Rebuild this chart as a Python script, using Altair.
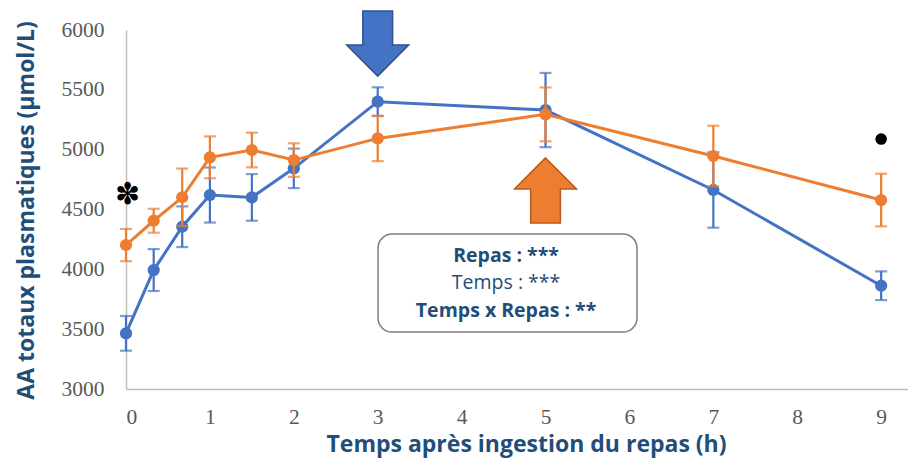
import altair as alt
import pandas as pd

# ---- data ----
times = [0, 0.33, 0.67, 1, 1.5, 2, 3, 5, 7, 9]
blue_mean = [3465, 3994, 4356, 4621, 4601, 4844, 5401, 5331, 4663, 3863]
blue_sem = [145, 175, 170, 230, 195, 165, 120, 310, 315, 120]
orange_mean = [4203, 4406, 4602, 4936, 4997, 4913, 5094, 5295, 4947, 4579]
orange_sem = [135, 100, 240, 175, 145, 140, 190, 225, 253, 220]
x_ticks = [0, 1, 2, 3, 4, 5, 6, 7, 8, 9]
y_ticks = [3000, 3500, 4000, 4500, 5000, 5500, 6000]

stats_lines = ["Repas : ***", "Temps : ***", "Temps x Repas : **"]
stats_bold = [True, False, True]

BLUE = "#4472C4"
ORANGE = "#ED7D31"
NAVY = "#1F4E79"
X_TITLE = "Temps après ingestion du repas (h)"
Y_TITLE = "AA totaux plasmatiques (µmol/L)"

x_scale = alt.Scale(domain=[0, 9.32], nice=False, zero=False)
y_scale = alt.Scale(domain=[3000, 6000], nice=False, zero=False)

X_AXIS = alt.Axis(
    values=x_ticks, grid=False, ticks=False, format="d",
    domainColor="#BFBFBF", domainWidth=1.5, labelFont="Liberation Serif", labelFontSize=21.5,
    labelColor="#595959", labelPadding=17, titleFont="Open Sans", titleFontWeight="bold",
    titleFontSize=23, titleColor=NAVY, titleX=400, titleY=62, titleBaseline="alphabetic",
    titleAlign="center")
Y_AXIS = alt.Axis(
    values=y_ticks, grid=False, ticks=False, format="d",
    domainColor="#BFBFBF", domainWidth=1.5, labelFont="Liberation Serif", labelFontSize=21.5,
    labelColor="#595959", labelPadding=22, titleFont="Open Sans", titleFontWeight="bold",
    titleFontSize=23, titleColor=NAVY, titleX=-100, titleY=180, titleAngle=-90,
    titleAlign="center", titleBaseline="middle")


def xe(field):
    return alt.X(field, scale=x_scale, axis=X_AXIS, title=X_TITLE)


def ye(field):
    return alt.Y(field, scale=y_scale, axis=Y_AXIS, title=Y_TITLE)


def series_df(mean, sem):
    return pd.DataFrame({
        "t": times,
        "m": mean,
        "lo": [m - s for m, s in zip(mean, sem)],
        "hi": [m + s for m, s in zip(mean, sem)],
    })


def series_layers(df, color):
    base = alt.Chart(df)
    bars = base.mark_rule(color=color, strokeWidth=2.2).encode(x=xe("t:Q"), y=ye("lo:Q"), y2="hi:Q")
    caps_lo = base.mark_tick(color=color, orient="horizontal", size=12, thickness=2.2).encode(
        x=xe("t:Q"), y=ye("lo:Q"))
    caps_hi = base.mark_tick(color=color, orient="horizontal", size=12, thickness=2.2).encode(
        x=xe("t:Q"), y=ye("hi:Q"))
    line = base.mark_line(color=color, strokeWidth=3).encode(x=xe("t:Q"), y=ye("m:Q"))
    pts = base.mark_point(color=color, filled=True, opacity=1, size=150).encode(x=xe("t:Q"), y=ye("m:Q"))
    return [bars, caps_lo, caps_hi, line, pts]


blue_df = series_df(blue_mean, blue_sem)
orange_df = series_df(orange_mean, orange_sem)

# annotations
box = alt.Chart(pd.DataFrame({"x1": [3.004], "x2": [6.09], "y1": [4295], "y2": [3476]})).mark_rect(
    fill="white", stroke="#7F7F7F", strokeWidth=1.5, cornerRadius=14).encode(
    x=xe("x1:Q"), x2="x2:Q", y=ye("y1:Q"), y2="y2:Q")

text_df = pd.DataFrame({"txt": stats_lines, "bold": stats_bold,
                        "x": [4.53, 4.53, 4.53], "y": [4110, 3882, 3655]})
bold_txt = alt.Chart(text_df[text_df["bold"]]).mark_text(
    font="Open Sans", fontWeight="bold", fontSize=19.5, color=NAVY, baseline="middle").encode(
    x=xe("x:Q"), y=ye("y:Q"), text="txt:N")
norm_txt = alt.Chart(text_df[~text_df["bold"]]).mark_text(
    font="Open Sans", fontSize=19.5, color=NAVY, baseline="middle").encode(
    x=xe("x:Q"), y=ye("y:Q"), text="txt:N")

down_arrow = "M-0.48,-1.05L0.48,-1.05L0.48,0.05L1,0.05L0,1.05L-1,0.05L-0.48,0.05Z"
up_arrow = "M0,-1.05L1,-0.05L0.48,-0.05L0.48,1.05L-0.48,1.05L-0.48,-0.05L-1,-0.05Z"

arrow_blue = alt.Chart(pd.DataFrame({"x": [3], "y": [5887]})).mark_point(
    shape=down_arrow, size=3844, filled=True, fill=BLUE, stroke="#2F528F", strokeWidth=1.5,
    opacity=1).encode(x=xe("x:Q"), y=ye("y:Q"))
arrow_orange = alt.Chart(pd.DataFrame({"x": [5], "y": [4659]})).mark_point(
    shape=up_arrow, size=3844, filled=True, fill=ORANGE, stroke="#B85A1B", strokeWidth=1.5,
    opacity=1).encode(x=xe("x:Q"), y=ye("y:Q"))

star = alt.Chart(pd.DataFrame({"x": [0.02], "y": [4621], "s": ["✽"]})).mark_text(
    font="DejaVu Sans", fontSize=30, color="black", baseline="middle").encode(
    x=xe("x:Q"), y=ye("y:Q"), text="s:N")

dot = alt.Chart(pd.DataFrame({"x": [9], "y": [5089]})).mark_point(
    filled=True, color="black", size=135, opacity=1).encode(x=xe("x:Q"), y=ye("y:Q"))

chart = alt.layer(
    *series_layers(blue_df, BLUE), *series_layers(orange_df, ORANGE),
    box, bold_txt, norm_txt, arrow_blue, arrow_orange, star, dot,
).properties(
    width=782, height=359,
    autosize=alt.AutoSizeParams(type="none"),
    padding={"left": 118, "top": 22, "right": 0, "bottom": 69},
).configure_view(stroke=None)

chart.save("out.html", embed_options={"renderer": "svg", "actions": False})
